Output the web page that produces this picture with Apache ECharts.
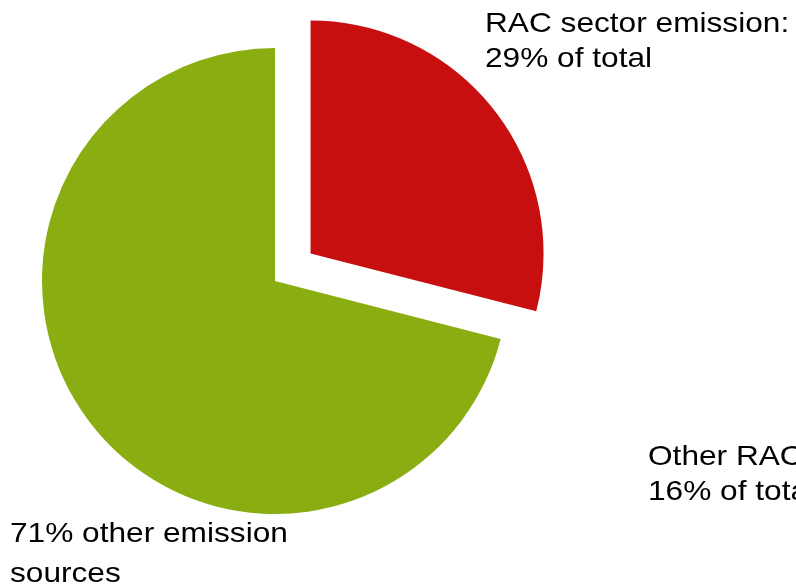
<!DOCTYPE html>
<html>
<head>
<meta charset="utf-8">
<script src="https://cdn.jsdelivr.net/npm/echarts@6/dist/echarts.min.js"></script>
<style>
  html, body { margin: 0; padding: 0; background: #fff; }
  #chart { width: 796px; height: 587px; }
</style>
</head>
<body>
<div id="chart"></div>
<script>
// slices, clockwise from 12 o'clock
var sliceNames = ['RAC sector emission', 'Other emission sources'];
var sliceValues = [29, 71];
var sliceColors = ['#C80F10', '#8AAE12'];

// free text labels: lines, left x, baseline of first line, line gap
var labelLines = [
  ['RAC sector emission:', '29% of total'],
  ['Other RAC sector emission:', '16% of total'],
  ['71% other emission', 'sources']
];
var labelX = [485, 648, 10];
var labelBase = [32, 465, 542];
var labelGap = [35, 35, 40];

var chart = echarts.init(document.getElementById('chart'));

var texts = [];
for (var i = 0; i < labelLines.length; i++) {
  for (var j = 0; j < labelLines[i].length; j++) {
    texts.push({
      type: 'text',
      x: labelX[i],
      y: labelBase[i] + j * labelGap[i] + 6,
      scaleX: 1.13,
      originX: 0,
      style: {
        text: labelLines[i][j],
        fill: '#000',
        font: '28px "Liberation Sans", Arial, sans-serif',
        textAlign: 'left',
        textVerticalAlign: 'bottom'
      }
    });
  }
}

var pieData = [];
for (var k = 0; k < sliceValues.length; k++) {
  pieData.push({
    name: sliceNames[k],
    value: sliceValues[k],
    selected: k === 0,
    itemStyle: { color: sliceColors[k] }
  });
}

chart.setOption({
  animation: false,
  series: [{
    type: 'pie',
    center: [275, 281],
    radius: 233,
    startAngle: 90,
    clockwise: true,
    selectedMode: 'single',
    selectedOffset: 45,
    label: { show: false },
    labelLine: { show: false },
    emphasis: { scale: false },
    itemStyle: { borderWidth: 0 },
    data: pieData
  }],
  graphic: texts
});
</script>
</body>
</html>
